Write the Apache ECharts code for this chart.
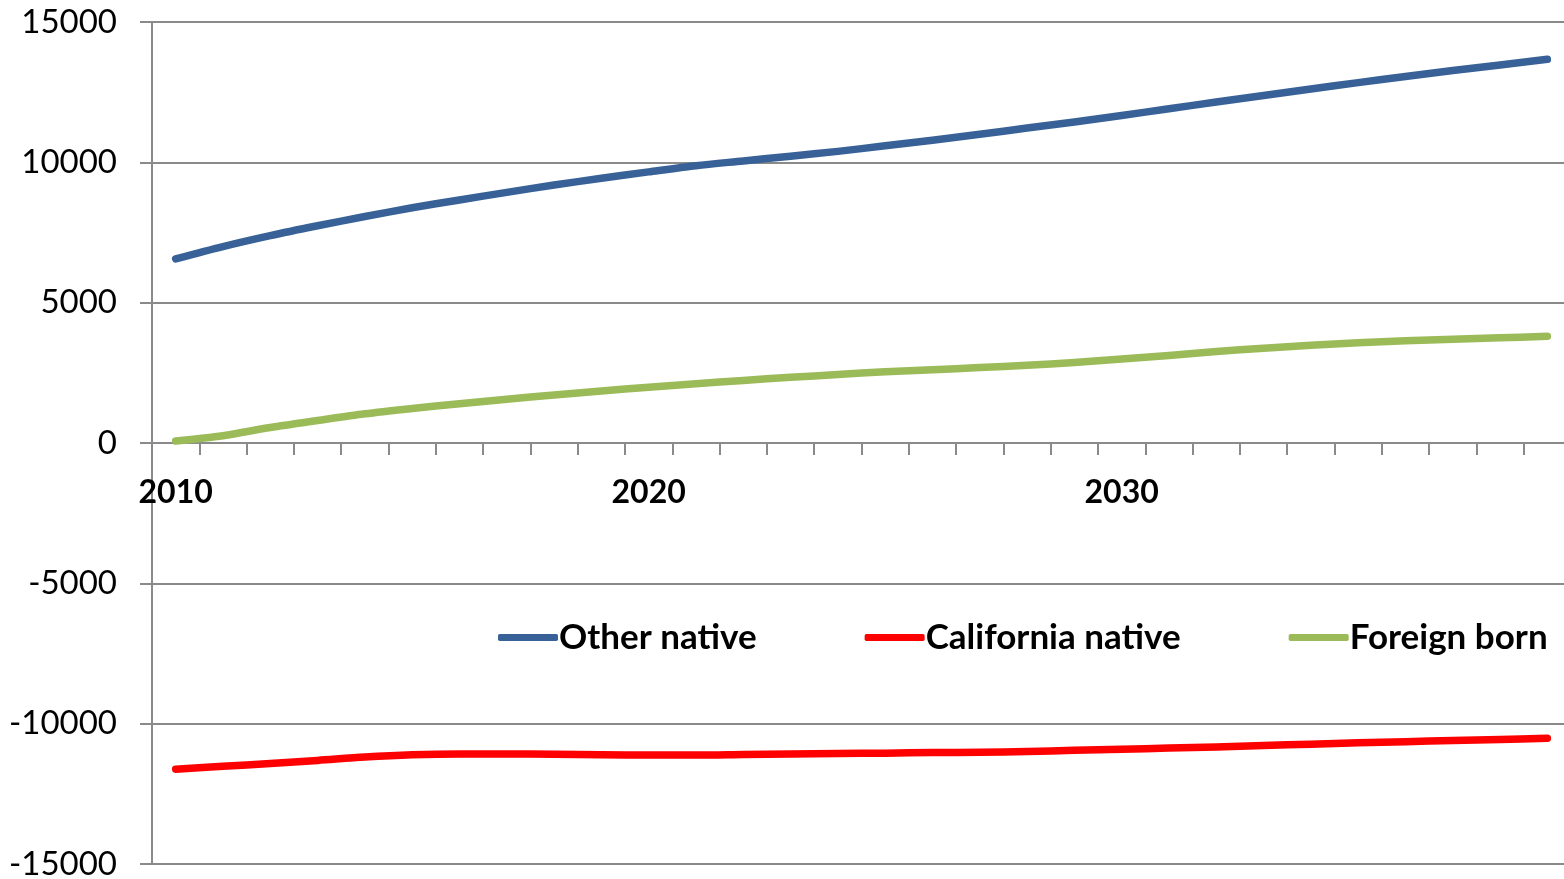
<!DOCTYPE html>
<html>
<head>
<meta charset="utf-8">
<script src="https://cdn.jsdelivr.net/npm/echarts@6/dist/echarts.min.js"></script>
<style>
html,body{margin:0;padding:0;background:#fff;}
#chart{width:1564px;height:879px;}
</style>
</head>
<body>
<div id="chart"></div>
<script>
var years = [];
for (var y = 2010; y <= 2039; y++) years.push(String(y));

var seriesNames = ['Other native', 'California native', 'Foreign born'];

var otherNative = [6560, 7000, 7390, 7740, 8070, 8380, 8660, 8930, 9190, 9430,
                   9660, 9880, 10050, 10220, 10390, 10590, 10790, 11000, 11220, 11440,
                   11670, 11910, 12150, 12380, 12610, 12840, 13060, 13270, 13470, 13670];

var californiaNative = [-11620, -11520, -11420, -11310, -11190, -11110, -11080, -11080, -11090, -11110,
                        -11120, -11120, -11100, -11080, -11060, -11050, -11030, -11020, -10990, -10950,
                        -10910, -10870, -10830, -10780, -10730, -10680, -10640, -10600, -10560, -10520];

var foreignBorn = [70, 260, 550, 800, 1040, 1230, 1400, 1560, 1710, 1850,
                   1990, 2110, 2230, 2340, 2440, 2540, 2610, 2690, 2770, 2870,
                   2990, 3120, 3260, 3380, 3480, 3570, 3640, 3700, 3750, 3800];

var colors = ['#386297', '#ff0000', '#9bbb59'];
var gridColor = '#8a8a8a';
var fontFam = 'Lato, "Open Sans", sans-serif';

var chart = echarts.init(document.getElementById('chart'));

function mkSeries(name, data, color) {
  return {
    name: name,
    type: 'line',
    data: data,
    smooth: 0.3,
    showSymbol: false,
    symbol: 'none',
    lineStyle: { color: color, width: 7.5, cap: 'round', join: 'round' },
    itemStyle: { color: color }
  };
}

chart.setOption({
  animation: false,
  backgroundColor: '#ffffff',
  grid: { left: 152, right: -7, top: 22, bottom: 15, containLabel: false, outerBoundsMode: 'none' },
  legend: {
    data: seriesNames,
    left: 493,
    top: 615,
    itemWidth: 60,
    itemHeight: 7,
    itemGap: 108,
    icon: 'roundRect',
    textStyle: {
      fontFamily: fontFam,
      fontWeight: 'bold',
      fontSize: 35,
      color: '#000',
      padding: [0, 0, 0, -4]
    }
  },
  xAxis: {
    type: 'category',
    data: years,
    boundaryGap: true,
    position: 'bottom',
    offset: -421,
    axisLine: { onZero: false, lineStyle: { color: gridColor, width: 2 } },
    axisTick: { show: true, length: 12, interval: 0, lineStyle: { color: gridColor, width: 2 } },
    axisLabel: {
      interval: 9,
      margin: 34,
      fontFamily: fontFam,
      fontWeight: 'bold',
      fontSize: 32,
      color: '#000'
    },
    splitLine: { show: false }
  },
  yAxis: {
    type: 'value',
    min: -15000,
    max: 15000,
    interval: 5000,
    axisLine: { show: true, lineStyle: { color: gridColor, width: 2 } },
    axisTick: { show: true, length: 12, lineStyle: { color: gridColor, width: 2 } },
    axisLabel: {
      margin: 35,
      fontFamily: fontFam,
      fontSize: 33,
      color: '#000',
      formatter: function (v) { return String(v); }
    },
    splitLine: { show: true, lineStyle: { color: gridColor, width: 2 } }
  },
  series: [
    mkSeries(seriesNames[0], otherNative, colors[0]),
    mkSeries(seriesNames[1], californiaNative, colors[1]),
    mkSeries(seriesNames[2], foreignBorn, colors[2])
  ]
});
</script>
</body>
</html>
